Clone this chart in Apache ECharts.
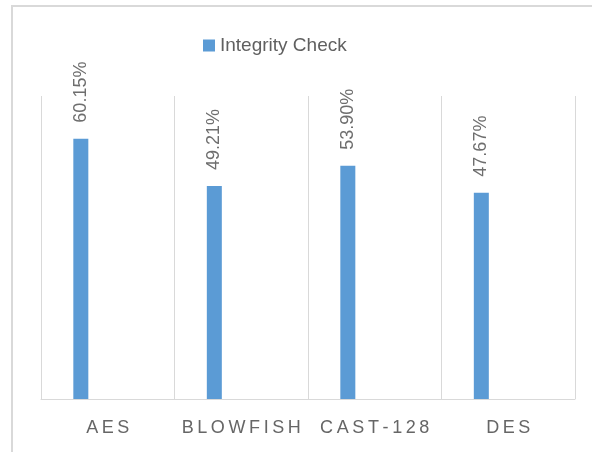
<!DOCTYPE html>
<html>
<head>
<meta charset="utf-8">
<script src="https://cdn.jsdelivr.net/npm/echarts@6/dist/echarts.min.js"></script>
<style>
html,body{margin:0;padding:0;background:#fff;}
#frame{position:absolute;left:11px;top:5px;width:600px;height:460px;border-top:2px solid #d9d9d9;border-left:2px solid #d9d9d9;}
#main{position:absolute;left:0;top:0;width:592px;height:452px;}
</style>
</head>
<body>
<div id="frame"></div>
<div id="main"></div>
<script>
var categories = ['AES', 'BLOWFISH', 'CAST-128', 'DES'];
var integrityCheck = [60.15, 49.21, 53.90, 47.67];
var seriesName = 'Integrity Check';

var spaced = function (s) { return s.split('').join('\u2009'); };

var chart = echarts.init(document.getElementById('main'));
chart.setOption({
  animation: false,
  backgroundColor: 'transparent',
  textStyle: { fontFamily: 'Liberation Sans' },
  legend: {
    data: [seriesName],
    left: 198, top: 31,
    itemWidth: 12, itemHeight: 12, itemGap: 6,
    icon: 'rect',
    textStyle: { fontSize: 19, color: '#606060', fontFamily: 'Liberation Sans' }
  },
  grid: { left: 41, right: 17, top: 96, bottom: 53 },
  xAxis: {
    type: 'category',
    data: categories,
    axisLine: { lineStyle: { color: '#d9d9d9', width: 1 } },
    axisTick: { show: false },
    splitLine: { show: true, lineStyle: { color: '#d9d9d9', width: 1 } },
    axisLabel: {
      fontSize: 18, color: '#666666', margin: 20, interval: 0,
      formatter: function (v) { return spaced(v); }
    }
  },
  yAxis: { type: 'value', min: 0, max: 70, show: false, splitLine: { show: false } },
  series: [
    {
      name: seriesName,
      type: 'bar',
      data: integrityCheck,
      barWidth: 15,
      barGap: '259%',
      itemStyle: { color: '#5b9bd5' },
      label: {
        show: true, position: 'top', rotate: 90, distance: 16,
        align: 'left', verticalAlign: 'middle',
        fontSize: 18, color: '#6e6e6e',
        formatter: function (p) { return p.value.toFixed(2) + '%'; }
      }
    },
    {
      name: 'pad',
      type: 'bar',
      data: [null, null, null, null],
      barWidth: 15,
      silent: true
    }
  ]
});
</script>
</body>
</html>
